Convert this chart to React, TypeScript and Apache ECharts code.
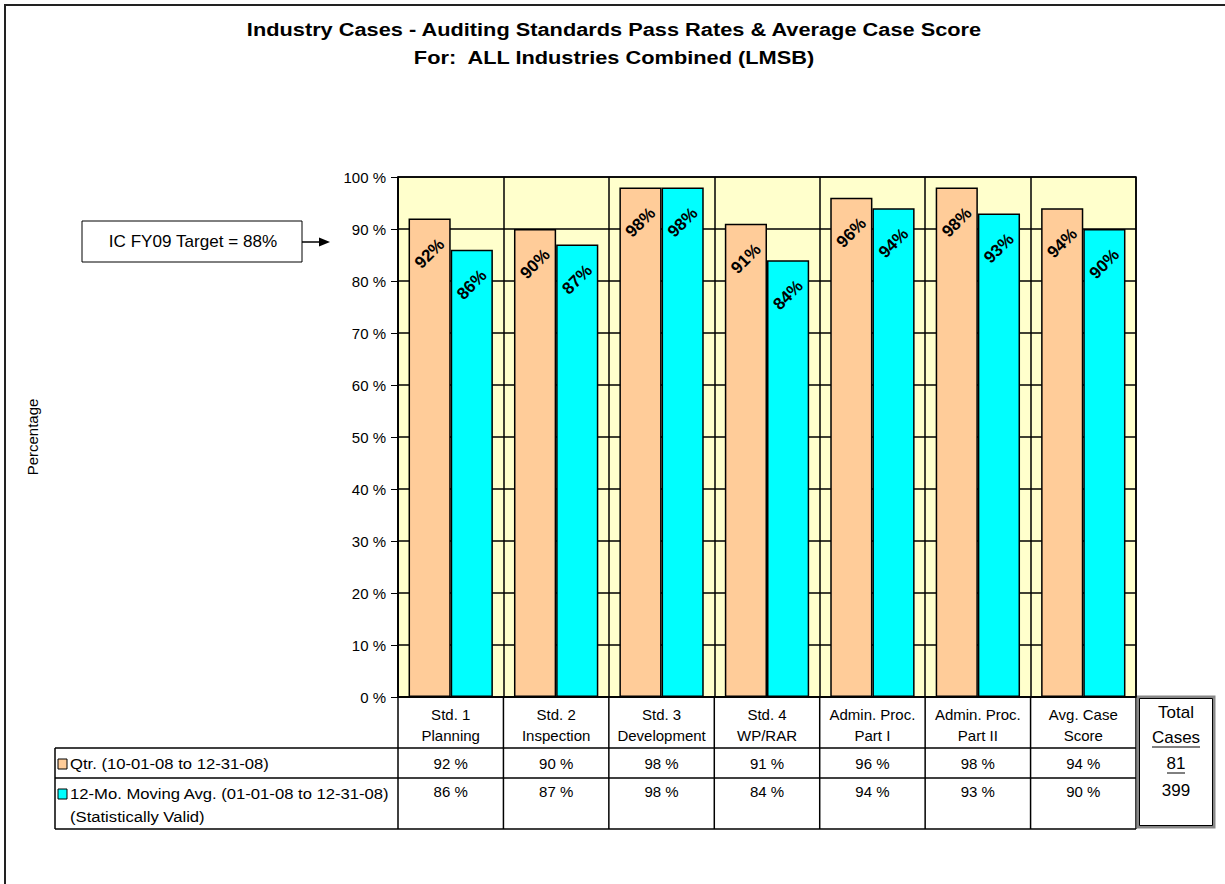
import React, { useEffect, useRef } from "react";
import * as echarts from "echarts";

const titleLines = [
  "Industry Cases - Auditing Standards Pass Rates & Average Case Score",
  "For:  ALL Industries Combined (LMSB)",
];
const categories = [
  "Std. 1\nPlanning",
  "Std. 2\nInspection",
  "Std. 3\nDevelopment",
  "Std. 4\nWP/RAR",
  "Admin. Proc.\nPart I",
  "Admin. Proc.\nPart II",
  "Avg. Case\nScore",
];
const seriesNames = ["Qtr. (10-01-08 to 12-31-08)", "12-Mo. Moving Avg. (01-01-08 to 12-31-08)"];
const seriesSubNote = "(Statistically Valid)";
const qtrValues = [92, 90, 98, 91, 96, 98, 94];
const movingAvgValues = [86, 87, 98, 84, 94, 93, 90];
const totalCasesHeader = ["Total", "Cases"];
const totalCasesValues = [81, 399];
const targetLabel = "IC FY09 Target = 88%";
const yAxisName = "Percentage";

const FONT = "'Liberation Sans', Arial, sans-serif";
const COLORS = ["#FFCC99", "#00FFFF"];

const GRID = { left: 398, top: 177, width: 738, height: 520 };

export default function App() {
  const ref = useRef<HTMLDivElement>(null);
  useEffect(() => {
    if (!ref.current) return;
    const chart = echarts.init(ref.current, undefined, { renderer: "svg" });
    const colW = GRID.width / categories.length;
    const bottom = GRID.top + GRID.height;
    const headerBottom = 748;
    const row1Bottom = 778;
    const row2Bottom = 829;
    const tableLeft = 55;
    const tableRight = GRID.left + GRID.width;
    const lineStyle = { stroke: "#000", lineWidth: 1.5 };

    const graphics: any[] = [];
    // outer frame
    graphics.push({ type: "rect", shape: { x: 5, y: 5, width: 1240, height: 900 }, style: { fill: "none", stroke: "#222", lineWidth: 2 }, silent: true });
    // titles
    titleLines.forEach((t, i) => {
      graphics.push({ type: "text", x: 614, y: 30 + i * 28, scaleX: 1.21, style: { text: t, font: `bold 18px ${FONT}`, fill: "#000", align: "center", verticalAlign: "middle" } });
    });
    // table horizontal lines
    [headerBottom, row1Bottom, row2Bottom].forEach((y) => {
      graphics.push({ type: "line", shape: { x1: tableLeft, y1: y, x2: tableRight, y2: y }, style: lineStyle });
    });
    graphics.push({ type: "line", shape: { x1: tableLeft, y1: headerBottom, x2: tableLeft, y2: row2Bottom }, style: lineStyle });
    for (let i = 0; i <= categories.length; i++) {
      const x = GRID.left + i * colW;
      graphics.push({ type: "line", shape: { x1: x, y1: bottom, x2: x, y2: row2Bottom }, style: lineStyle });
    }
    // legend keys
    [headerBottom, row1Bottom].forEach((y, i) => {
      graphics.push({ type: "rect", shape: { x: 58, y: y + 11, width: 9, height: 10 }, style: { fill: COLORS[i], stroke: "#000", lineWidth: 1 } });
      graphics.push({ type: "text", x: 70, y: y + 16, scaleX: 1.11, style: { text: seriesNames[i], font: `15px ${FONT}`, fill: "#000", verticalAlign: "middle" } });
    });
    graphics.push({ type: "text", x: 70, y: row1Bottom + 39, scaleX: 1.11, style: { text: seriesSubNote, font: `15px ${FONT}`, fill: "#000", verticalAlign: "middle" } });
    // values
    [qtrValues, movingAvgValues].forEach((vals, r) => {
      const y = r === 0 ? 763 : 791;
      vals.forEach((v, i) => {
        graphics.push({ type: "text", x: GRID.left + (i + 0.5) * colW, y, style: { text: `${v} %`, font: `15px ${FONT}`, fill: "#000", align: "center", verticalAlign: "middle" } });
      });
    });
    // total cases box
    graphics.push({ type: "rect", shape: { x: 1138, y: 697, width: 76, height: 130 }, style: { fill: "#fff", stroke: "#888", lineWidth: 3 } });
    graphics.push({ type: "rect", shape: { x: 1139.5, y: 698.5, width: 73, height: 127 }, style: { fill: "none", stroke: "#000", lineWidth: 1 } });
    const totTexts = [...totalCasesHeader, ...totalCasesValues.map(String)];
    const totY = [712, 737, 763, 790];
    totTexts.forEach((t, i) => {
      graphics.push({ type: "text", x: 1176, y: totY[i], style: { text: t, font: `17px ${FONT}`, fill: "#000", align: "center", verticalAlign: "middle" } });
      if (i === 1 || i === 2) {
        const w = i === 1 ? 24 : 9;
        graphics.push({ type: "line", shape: { x1: 1176 - w, y1: totY[i] + 10, x2: 1176 + w, y2: totY[i] + 10 }, style: { stroke: "#000", lineWidth: 1 } });
      }
    });
    // target annotation
    graphics.push({ type: "rect", shape: { x: 82, y: 221, width: 220, height: 41 }, style: { fill: "#fff", stroke: "#000", lineWidth: 1 } });
    graphics.push({ type: "text", x: 193, y: 242, scaleX: 1.07, style: { text: targetLabel, font: `16px ${FONT}`, fill: "#000", align: "center", verticalAlign: "middle" } });
    graphics.push({ type: "line", shape: { x1: 302, y1: 242, x2: 322, y2: 242 }, style: { stroke: "#000", lineWidth: 1.5 } });
    graphics.push({ type: "polygon", shape: { points: [[319, 237.5], [330, 242], [319, 246.5]] }, style: { fill: "#000" } });

    const barLabel = {
      show: true,
      position: "insideTop",
      distance: 35,
      rotate: 45,
      align: "center",
      verticalAlign: "middle",
      formatter: (p: any) => `${p.value}%`,
      fontFamily: FONT,
      fontSize: 17,
      fontWeight: "bold",
      color: "#000",
    };

    chart.setOption({
      animation: false,
      backgroundColor: "#fff",
      grid: { ...GRID, show: true, backgroundColor: "#FFFFCC", borderColor: "#000", borderWidth: 1.5, containLabel: false },
      xAxis: {
        type: "category",
        data: categories,
        axisLine: { show: true, lineStyle: { color: "#000", width: 1.5 } },
        axisTick: { show: false },
        splitLine: { show: true, lineStyle: { color: "#000", width: 1.5 } },
        axisLabel: { interval: 0, margin: 7, lineHeight: 21, fontSize: 15, fontFamily: FONT, color: "#000" },
      },
      yAxis: {
        type: "value",
        min: 0,
        max: 100,
        interval: 10,
        name: yAxisName,
        nameLocation: "middle",
        nameGap: 358,
        nameTextStyle: { fontSize: 15, fontFamily: FONT, color: "#000" },
        axisLine: { show: true, lineStyle: { color: "#000", width: 1.5 } },
        axisTick: { show: true, length: 7, lineStyle: { color: "#000" } },
        splitLine: { show: true, lineStyle: { color: "#000", width: 1.5 } },
        axisLabel: { formatter: (v: number) => `${v} %`, margin: 12, fontSize: 15, fontFamily: FONT, color: "#000" },
      },
      series: [
        {
          name: seriesNames[0],
          type: "bar",
          data: qtrValues,
          barGap: "0%",
          barCategoryGap: "20%",
          itemStyle: { color: COLORS[0], borderColor: "#000", borderWidth: 1.5 },
          label: barLabel,
        },
        {
          name: seriesNames[1],
          type: "bar",
          data: movingAvgValues,
          itemStyle: { color: COLORS[1], borderColor: "#000", borderWidth: 1.5 },
          label: barLabel,
        },
      ],
      graphic: graphics,
    });
    return () => chart.dispose();
  }, []);
  return <div ref={ref} style={{ position: "fixed", left: 0, top: 0, width: 1225, height: 884 }} />;
}
